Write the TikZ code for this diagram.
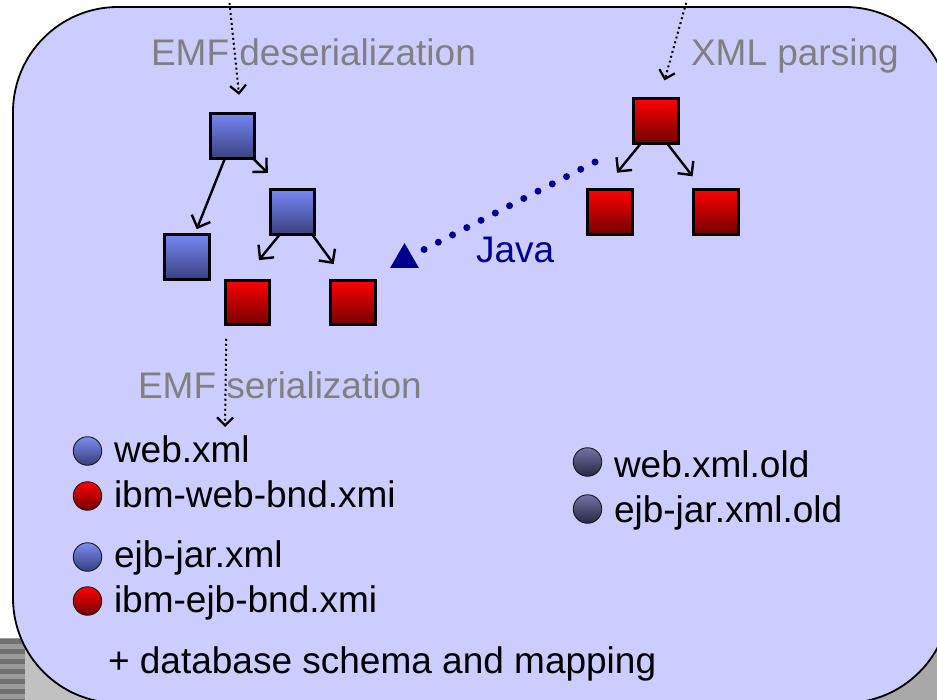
\documentclass[tikz,border=0pt]{standalone}
\usepackage{fontspec}
\setmainfont{Liberation Sans}
\usetikzlibrary{arrows.meta,shapes.geometric}
\definecolor{boxblue}{RGB}{204,204,255}
\definecolor{sqbluetop}{RGB}{118,134,245}
\definecolor{sqbluebot}{RGB}{58,66,125}
\definecolor{sqredtop}{RGB}{255,0,0}
\definecolor{sqredbot}{RGB}{115,0,0}
\definecolor{bultop}{RGB}{125,140,240}
\definecolor{bulbot}{RGB}{55,62,125}
\definecolor{oldtop}{RGB}{115,115,165}
\definecolor{oldbot}{RGB}{38,38,68}
\definecolor{titlegray}{RGB}{128,128,128}
\definecolor{javanavy}{RGB}{0,0,140}
\definecolor{grayL}{RGB}{194,194,194}
\definecolor{grayR}{RGB}{168,168,168}
\definecolor{stripeA}{RGB}{154,154,154}
\definecolor{stripeB}{RGB}{112,112,112}
\begin{document}
\begin{tikzpicture}[x=1pt,y=-1pt,
  every node/.style={inner sep=0pt,outer sep=0pt},
  txt/.style={anchor=base west,font=\fontsize{37}{40}\selectfont},
  sqbox/.style={rectangle,draw=black,line width=2.6pt,minimum size=44.5pt},
  bluesq/.style={sqbox,top color=sqbluetop,bottom color=sqbluebot},
  redsq/.style={sqbox,top color=sqredtop,bottom color=sqredbot},
  bullet/.style={circle,draw=black!90,line width=0.9pt,minimum size=28.5pt},
  bluebul/.style={bullet,top color=bultop,bottom color=bulbot},
  redbul/.style={bullet,top color=sqredtop,bottom color=sqredbot},
  oldbul/.style={bullet,top color=oldtop,bottom color=oldbot},
  tree/.style={line width=2.4pt,-{Straight Barb[length=10pt,width=20pt]}},
  dotarrow/.style={line width=2pt,dash pattern=on 2pt off 3pt,-{Straight Barb[length=8pt,width=16pt,line width=2.2pt]}},
  javadots/.style={javanavy,line width=7pt,line cap=round,dash pattern=on 0pt off 16pt}
]
\useasboundingbox (0,0) rectangle (937,699);
\fill[white] (0,0) rectangle (937,699);
\shade[left color=grayL,right color=grayR] (0,638) rectangle (937,699);
\fill[stripeA] (0,638) rectangle (25,699);
\foreach \yy in {639,649,...,699} \fill[stripeB] (0,\yy) rectangle (25,\yy+4.5);
\draw[fill=boxblue,line width=1.8pt,rounded corners=105pt] (13,7) rectangle (950,703);

% titles
\node[txt,text=titlegray] (t1) at (151,65) {EMF deserialization};
\node[txt,text=titlegray] (t2) at (691,65) {XML parsing};
\node[txt,text=titlegray] (t3) at (138,398) {EMF serialization};
\node[txt,text=javanavy] (tj) at (476,262) {Java};

% blue tree
\node[bluesq] (b1) at (232.5,136) {};
\node[bluesq] (b2) at (292.5,212) {};
\node[bluesq] (b3) at (187,257) {};
\node[redsq] (rA) at (247.5,302.5) {};
\node[redsq] (rB) at (353,302.5) {};
% red tree
\node[redsq] (r1) at (656,121) {};
\node[redsq] (r2) at (610,212) {};
\node[redsq] (r3) at (716,212) {};

\draw[tree,shorten >=6pt] ([xshift=-7.5pt]b1.south) -- ([xshift=7.5pt]b3.north);
\draw[tree,shorten >=24pt] ([xshift=-2pt]b1.south east) -- ([xshift=-7.5pt]b2.north);
\draw[tree,shorten >=26pt] ([xshift=-12.5pt]b2.south) -- ([xshift=-5pt]rA.north);
\draw[tree,shorten >=20pt] ([xshift=19.5pt]b2.south) -- ([xshift=-7.5pt]rB.north);
\draw[tree,shorten >=22pt] ([xshift=-15pt]r1.south) -- ([xshift=-7pt]r2.north);
\draw[tree,shorten >=17pt] ([xshift=11pt]r1.south) -- ([xshift=-13pt]r3.north);

% dotted arrows
\coordinate (d1) at (229,-2);
\coordinate (d2) at (687.5,-2);
\coordinate (d3) at (225,427);
\draw[dotarrow,shorten >=19pt] (d1) -- ([xshift=8.5pt]b1.north);
\draw[dotarrow,shorten >=19pt] (d2) -- ([xshift=3.4pt]r1.north);
\draw[dotarrow] ([xshift=1pt,yshift=-14pt]rA.south west) -- (d3);

% Java arrow
\node[regular polygon,regular polygon sides=3,minimum size=33pt,fill=javanavy] (tri) at (404.5,259.5) {};
\coordinate (j1) at (595,162);
\draw[javadots,shorten >=22pt] (j1) -- (tri.center);

% lists
\node[bluebul] (c1) at (87.5,451) {};
\node[txt] (l1) at (114,462) {web.xml};
\node[redbul] (c2) at (87.5,496) {};
\node[txt] (l2) at (114,507) {ibm-web-bnd.xmi};
\node[bluebul] (c3) at (87.5,557) {};
\node[txt] (l3) at (114,567) {ejb-jar.xml};
\node[redbul] (c4) at (87.5,601) {};
\node[txt] (l4) at (114,612) {ibm-ejb-bnd.xmi};
\node[txt] (l5) at (108,673) {+ database schema and mapping};
\node[oldbul] (c5) at (587.5,462) {};
\node[txt] (l6) at (614,477) {web.xml.old};
\node[oldbul] (c6) at (587.5,509) {};
\node[txt] (l7) at (614,522) {ejb-jar.xml.old};
\end{tikzpicture}
\end{document}
